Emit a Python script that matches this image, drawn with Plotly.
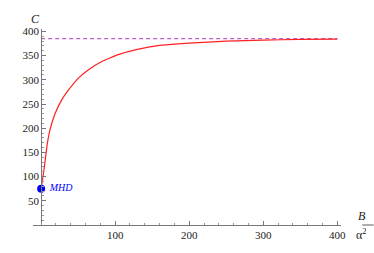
import plotly.graph_objects as go

# data
x_vals = [0, 2.5, 5, 8, 12, 19, 28, 37, 50, 64, 82, 104, 130, 160, 200, 250, 300, 350, 400]
c_vals = [75, 100, 128, 165, 197, 231, 259, 279, 303, 321, 338, 352, 363, 371, 376, 380, 382, 383.5, 384]
asym_x = [0, 400]
asym_c = [385, 385]
mhd_x = [0]
mhd_c = [75]
mhd_label = "MHD"
x_ticks = [100, 200, 300, 400]
y_ticks = [50, 100, 150, 200, 250, 300, 350, 400]

FONT = "Liberation Serif"

fig = go.Figure()
fig.add_trace(go.Scatter(x=asym_x, y=asym_c, mode="lines",
                         line=dict(color="#C060D0", width=1.2, dash="4px,3px"),
                         hoverinfo="skip", showlegend=False))
fig.add_trace(go.Scatter(x=x_vals, y=c_vals, mode="lines",
                         line=dict(color="#FF2020", width=1.2, shape="spline", smoothing=0.2),
                         showlegend=False))
fig.add_trace(go.Scatter(x=mhd_x, y=mhd_c, mode="markers+text",
                         marker=dict(color="#0000FF", size=8),
                         text=[" " + mhd_label], textposition="middle right",
                         textfont=dict(family=FONT, size=10, color="#0000FF", style="italic"),
                         showlegend=False, cliponaxis=False))

xmin, xmax = -11, 405
ymin, ymax = 0, 405

fig.update_layout(
    width=374, height=253,
    margin=dict(l=33, r=33, t=29, b=28, autoexpand=False),
    paper_bgcolor="white", plot_bgcolor="white",
    font=dict(family=FONT, size=11, color="#222"),
    xaxis=dict(range=[xmin, xmax], showgrid=False, zeroline=False, automargin=False,
               showline=True, linecolor="#777", linewidth=1,
               tickvals=x_ticks, ticks="inside", ticklen=4, tickcolor="#777",
               minor=dict(dtick=20, tick0=0, ticks="inside", ticklen=2, tickcolor="#999"),
               tickfont=dict(family=FONT, size=11, color="#222")),
    yaxis=dict(range=[ymin, ymax], showgrid=False, zeroline=False, automargin=False,
               anchor="free", position=(0 - xmin) / (xmax - xmin),
               showline=True, linecolor="#777", linewidth=1,
               tickvals=y_ticks, ticks="inside", ticklen=4, tickcolor="#777",
               minor=dict(dtick=10, tick0=0, ticks="inside", ticklen=2, tickcolor="#999"),
               tickfont=dict(family=FONT, size=11, color="#222")),
)

fig.add_annotation(x=-8, y=1.095, xref="x", yref="paper", text="<i>C</i>",
                   showarrow=False, font=dict(family=FONT, size=12, color="#222"))
fig.add_annotation(x=1.087, y=0.0, xref="paper", yref="paper", text="<i>B</i>",
                   yanchor="bottom", showarrow=False,
                   font=dict(family=FONT, size=12, color="#222"))
fig.add_annotation(x=1.087, y=0.0, xref="paper", yref="paper", text="α<sup>2</sup>",
                   yanchor="top", showarrow=False,
                   font=dict(family=FONT, size=12, color="#222"))
fig.add_shape(type="line", xref="paper", yref="paper",
              x0=1.069, x1=1.106, y0=0.0, y1=0.0,
              line=dict(color="#333", width=0.8))

fig.write_html("out.html", config={"displayModeBar": False},
               post_script="document.body.style.margin='0';document.body.style.padding='0';")
